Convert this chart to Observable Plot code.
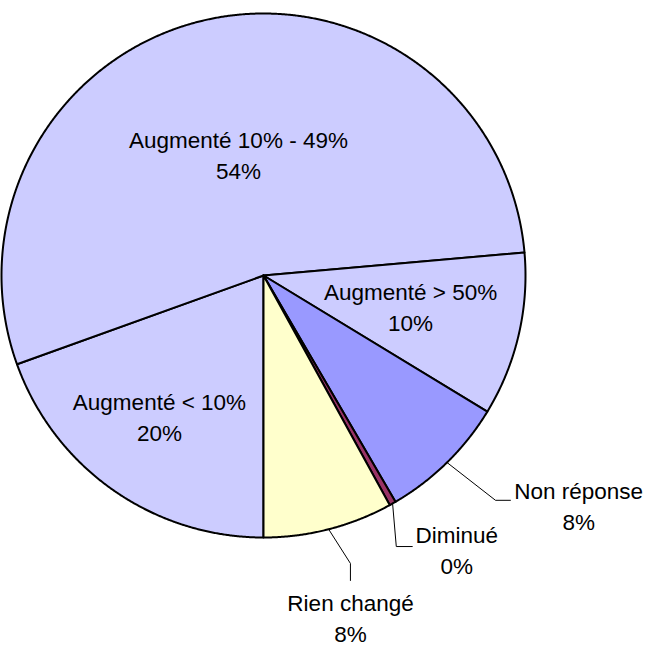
<!DOCTYPE html>
<html>
<head>
<meta charset="utf-8">
<script src="https://cdn.jsdelivr.net/npm/d3@7"></script>
<script src="https://cdn.jsdelivr.net/npm/@observablehq/plot@0.6"></script>
<style>
  html, body { margin: 0; padding: 0; background: #fff; }
  #chart { width: 645px; height: 646px; }
</style>
</head>
<body>
<div id="chart"></div>
<script>
// ---- Data (clockwise from the bottom of the pie) ----
const names = ["Augmenté < 10%", "Augmenté 10% - 49%", "Augmenté > 50%", "Non réponse", "Diminué", "Rien changé"];
const shares = [19.5, 54.1, 10.1, 7.9, 0.4, 8.0];
const pctLabels = ["20%", "54%", "10%", "8%", "0%", "8%"];
const sliceColors = ["#CCCCFF", "#CCCCFF", "#CCCCFF", "#9999FF", "#993366", "#FFFFCC"];

// ---- Layout (not data) ----
const W = 645, H = 646;
const R = 262;              // pie radius in px
const CX = 263, CY = 275;   // pie centre in px
const START = 180;          // degrees clockwise from 12 o'clock
// label placement: angle (deg, clockwise from top), distance (in radii)
const labelPos = [
  {a: 216.6, r: 0.666},
  {a: 348.4, r: 0.475},
  {a: 101.5, r: 0.573},
  {a: 126.0, r: 1.487},
  {a: 144.7, r: 1.276},
  {a: 165.7, r: 1.345}
];
// leader lines for outside labels: elbow (angle, r) and tail offset (in radii)
const leaders = {
  3: {elbow: {a: 134.1, r: 1.233}, tail: [0.057, 0]},
  4: {elbow: {a: 153.9, r: 1.152}, tail: [0.061, 0]},
  5: {elbow: {a: 163.2, r: 1.148}, tail: [0, -0.065]}
};

const rad = d => d * Math.PI / 180;
const polar = (a, r) => ({x: r * Math.sin(rad(a)), y: r * Math.cos(rad(a))});

// slice polygons
const total = d3.sum(shares);
const slicePts = [];
const mids = [];
let acc = START;
names.forEach((name, i) => {
  const a0 = acc, a1 = acc + shares[i] / total * 360;
  acc = a1;
  mids.push((a0 + a1) / 2);
  const pts = [{x: 0, y: 0}];
  const n = Math.max(2, Math.ceil((a1 - a0) / 0.25));
  for (let k = 0; k <= n; k++) pts.push(polar(a0 + (a1 - a0) * k / n, 1));
  pts.push({x: 0, y: 0});
  pts.forEach(p => slicePts.push({...p, name, color: sliceColors[i]}));
});

// labels
const labels = names.map((name, i) => ({...polar(labelPos[i].a, labelPos[i].r), text: name + "\n" + pctLabels[i]}));

// leader lines
const leaderPts = [];
Object.entries(leaders).forEach(([i, L]) => {
  const s = polar(mids[i], 1);
  const e = polar(L.elbow.a, L.elbow.r);
  const t = {x: e.x + L.tail[0], y: e.y + L.tail[1]};
  [s, e, t].forEach(p => leaderPts.push({...p, name: names[i]}));
});

const chart = Plot.plot({
  width: W,
  height: H,
  margin: 0,
  x: {domain: [-CX / R, (W - CX) / R], axis: null},
  y: {domain: [-(H - CY) / R, CY / R], axis: null},
  color: {type: "identity"},
  style: {fontFamily: "'Liberation Sans', Arial, sans-serif", background: "#fff"},
  marks: [
    Plot.line(slicePts, {x: "x", y: "y", z: "name", fill: "color", stroke: "#000", strokeWidth: 2, strokeLinejoin: "round", curve: "linear"}),
    Plot.line(leaderPts, {x: "x", y: "y", z: "name", stroke: "#000", strokeWidth: 1, curve: "linear"}),
    Plot.text(labels, {x: "x", y: "y", text: "text", fontSize: 22.5, lineHeight: 1.38, fill: "#000"})
  ]
});
document.getElementById("chart").appendChild(chart);
</script>
</body>
</html>
